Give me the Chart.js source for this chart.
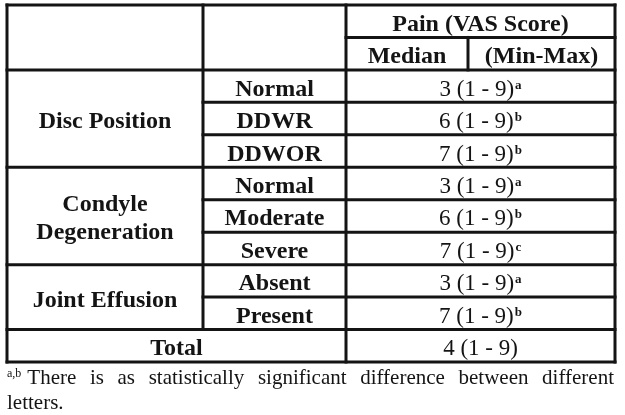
<!DOCTYPE html>
<html>
<head>
<meta charset="utf-8">
<script src="https://cdn.jsdelivr.net/npm/chart.js@4.4.0/dist/chart.umd.min.js"></script>
<style>
html,body{margin:0;padding:0;background:#fff}
canvas{display:block}
</style>
</head>
<body>
<canvas id="tbl" width="625" height="415"></canvas>
<script>
// table content
const headerTitle = 'Pain (VAS Score)';
const headerCols = ['Median', '(Min-Max)'];
const groupNames = [['Disc Position'], ['Condyle', 'Degeneration'], ['Joint Effusion']];
const groupSizes = [3, 3, 2];
const categories = ['Normal', 'DDWR', 'DDWOR', 'Normal', 'Moderate', 'Severe', 'Absent', 'Present'];
const medians = [3, 6, 7, 3, 6, 7, 3, 7];
const mins = [1, 1, 1, 1, 1, 1, 1, 1];
const maxs = [9, 9, 9, 9, 9, 9, 9, 9];
const letters = ['a', 'b', 'b', 'a', 'b', 'c', 'a', 'b'];
const totalLabel = 'Total';
const totalMedian = [4];
const totalMin = [1];
const totalMax = [9];
const footLetters = 'a,b';
const footText = 'There is as statistically significant difference between different letters.';

// layout (column widths in table units)
const colW = [196, 143, 122, 147];
const edges = colW.reduce((a, w) => { a.push(a[a.length - 1] + w); return a; }, [0]);
const nRows = 2 + categories.length + 1;
const FONT = '"Liberation Serif", "Times New Roman", serif';
const INK = '#141414';

const valueX = (edges[2] + edges[4]) / 2;
const cellPoints = categories.map((c, i) => ({x: valueX, y: 2 + i + 0.5}));
cellPoints.push({x: valueX, y: nRows - 0.5});
const cellText = medians.map((m, i) => `${m} (${mins[i]} - ${maxs[i]})`);
cellText.push(`${totalMedian[0]} (${totalMin[0]} - ${totalMax[0]})`);
const cellSup = letters.concat(['']);

const tablePlugin = {
  id: 'tablePlugin',
  beforeDraw(chart) {
    const c = chart.ctx;
    c.save(); c.fillStyle = '#fff'; c.fillRect(0, 0, chart.width, chart.height); c.restore();
  },
  afterDraw(chart) {
    const c = chart.ctx, xs = chart.scales.x, ys = chart.scales.y;
    const X = v => xs.getPixelForValue(v), Y = v => ys.getPixelForValue(v);
    c.save();
    c.strokeStyle = INK; c.lineWidth = 3; c.lineCap = 'square';
    function hl(r, a, b) { c.beginPath(); c.moveTo(X(edges[a]), Y(r)); c.lineTo(X(edges[b]), Y(r)); c.stroke(); }
    function vl(e, r0, r1) { c.beginPath(); c.moveTo(X(edges[e]), Y(r0)); c.lineTo(X(edges[e]), Y(r1)); c.stroke(); }
    // horizontal rules
    hl(0, 0, 4); hl(1, 2, 4); hl(2, 0, 4);
    let r = 2;
    groupSizes.forEach(n => {
      for (let k = 1; k < n; k++) hl(r + k, 1, 4);
      r += n; hl(r, 0, 4);
    });
    hl(nRows, 0, 4);
    // vertical rules
    vl(0, 0, nRows); vl(1, 0, nRows - 1); vl(2, 0, nRows); vl(3, 1, 2); vl(4, 0, nRows);

    c.fillStyle = INK; c.textAlign = 'center'; c.textBaseline = 'alphabetic';
    const bold = '700 24px ' + FONT;
    function txt(s, cx, cy, f) { c.font = f || bold; c.fillText(s, cx, cy + 9.5); }
    const mid = (a, b) => (X(edges[a]) + X(edges[b])) / 2;
    // headers
    txt(headerTitle, mid(2, 4), Y(0.5));
    txt(headerCols[0], mid(2, 3), Y(1.5));
    txt(headerCols[1], mid(3, 4), Y(1.5));
    // groups
    r = 2;
    groupNames.forEach((g, gi) => {
      const cy = Y(r + groupSizes[gi] / 2);
      g.forEach((line, li) => txt(line, mid(0, 1), cy + (li - (g.length - 1) / 2) * 28));
      r += groupSizes[gi];
    });
    categories.forEach((s, i) => txt(s, mid(1, 2), Y(2 + i + 0.5)));
    txt(totalLabel, mid(0, 2), Y(nRows - 0.5));
    // value cells from dataset points
    const meta = chart.getDatasetMeta(0);
    meta.data.forEach((pt, i) => {
      const main = cellText[i], sup = cellSup[i];
      c.font = '400 23px ' + FONT;
      const w1 = c.measureText(main).width;
      c.font = '700 13px ' + FONT;
      const w2 = sup ? c.measureText(sup).width + 1 : 0;
      const x0 = pt.x - (w1 + w2) / 2;
      c.textAlign = 'left';
      c.font = '400 23px ' + FONT;
      c.fillText(main, x0, pt.y + 9.5);
      if (sup) { c.font = '700 13px ' + FONT; c.fillText(sup, x0 + w1 + 1, pt.y + 2.5); }
      c.textAlign = 'center';
    });
    // footnote, justified
    const left = chart.chartArea.left, right = chart.chartArea.right - 1;
    const base1 = Y(nRows) + 22, base2 = base1 + 24.5;
    c.textAlign = 'left';
    c.font = '400 12px ' + FONT;
    c.fillText(footLetters, left, base1 - 7);
    const supW = c.measureText(footLetters).width;
    c.font = '400 21px ' + FONT;
    const words = footText.split(' ');
    const line1 = words.slice(0, words.length - 1), line2 = words.slice(words.length - 1);
    const startX = left + supW + 6;
    const wsum = line1.reduce((s, w) => s + c.measureText(w).width, 0);
    const gap = (right - startX - wsum) / (line1.length - 1);
    let x = startX;
    line1.forEach(w => { c.fillText(w, x, base1); x += c.measureText(w).width + gap; });
    c.fillText(line2.join(' '), left, base2);
    c.restore();
  }
};

new Chart(document.getElementById('tbl').getContext('2d'), {
  type: 'scatter',
  data: {datasets: [{data: cellPoints, pointRadius: 0, pointHoverRadius: 0}]},
  options: {
    responsive: false, animation: false, devicePixelRatio: 1,
    layout: {padding: {left: 7, right: 10, top: 5, bottom: 53}},
    plugins: {legend: {display: false}, tooltip: {enabled: false}},
    events: [],
    scales: {
      x: {type: 'linear', display: false, min: 0, max: edges[4]},
      y: {type: 'linear', display: false, min: 0, max: nRows, reverse: true}
    }
  },
  plugins: [tablePlugin]
});
</script>
</body>
</html>
